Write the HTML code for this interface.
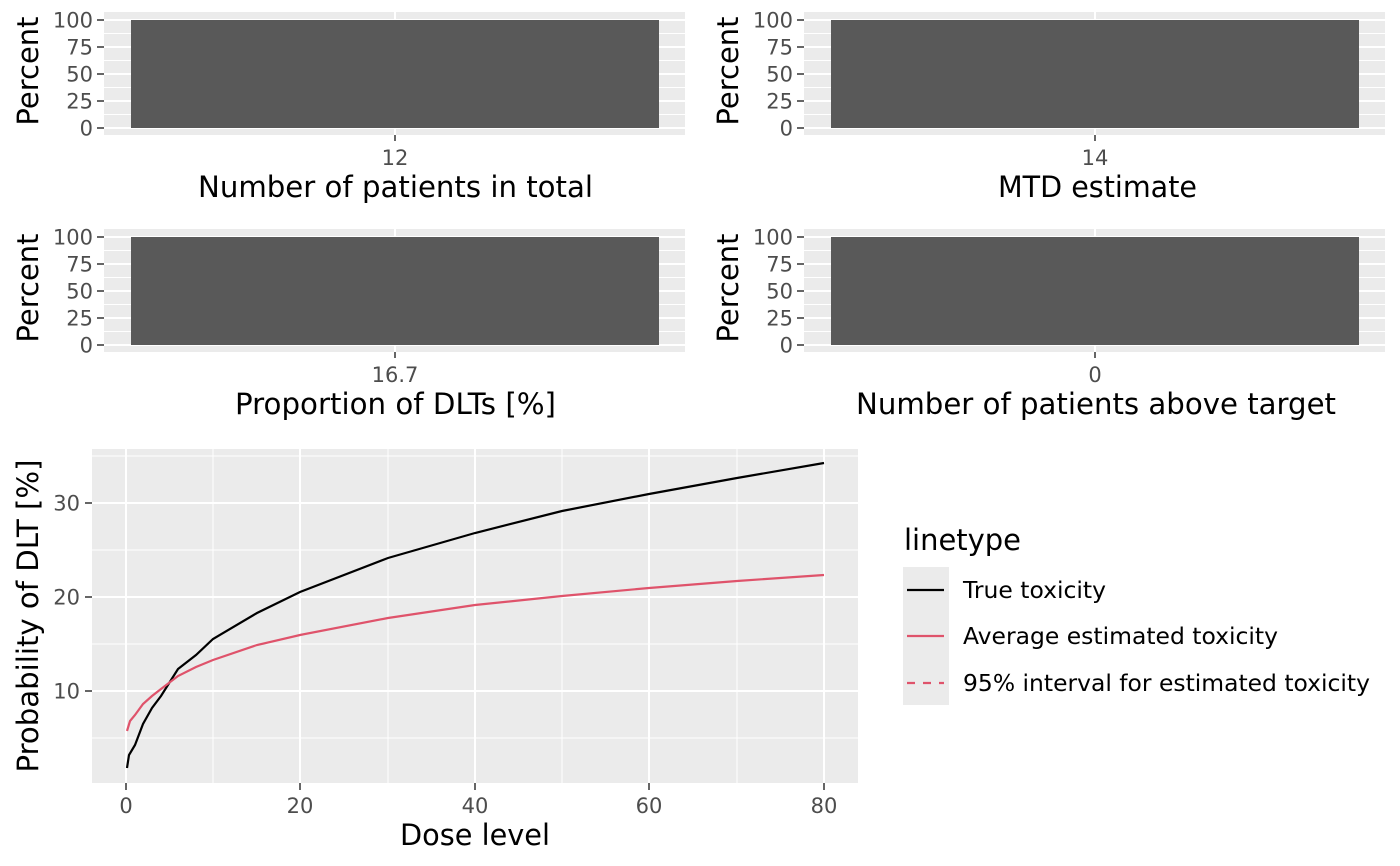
<!DOCTYPE html>
<html><head><style>body{margin:0;background:#fff}svg{display:block}text{font-family:"DejaVu Sans","Liberation Sans",sans-serif}</style></head><body>
<svg width="1400" height="866" xmlns="http://www.w3.org/2000/svg">
<defs>
<g id="panel">
<rect x="104" y="12" width="581" height="123" fill="#EBEBEB"/>
<g stroke="#fff" stroke-width="1"><line x1="104" x2="685" y1="33.5" y2="33.5"/><line x1="104" x2="685" y1="60.5" y2="60.5"/><line x1="104" x2="685" y1="87.5" y2="87.5"/><line x1="104" x2="685" y1="114.5" y2="114.5"/></g>
<g stroke="#fff" stroke-width="2"><line x1="104" x2="685" y1="20" y2="20"/><line x1="104" x2="685" y1="47" y2="47"/><line x1="104" x2="685" y1="74" y2="74"/><line x1="104" x2="685" y1="101" y2="101"/><line x1="104" x2="685" y1="128" y2="128"/><line x1="395" x2="395" y1="12" y2="135"/></g>
<rect x="131" y="20" width="528" height="108" fill="#595959"/>
<g stroke="#333" stroke-width="1.5"><line x1="97" x2="104" y1="20" y2="20"/><line x1="97" x2="104" y1="47" y2="47"/><line x1="97" x2="104" y1="74" y2="74"/><line x1="97" x2="104" y1="101" y2="101"/><line x1="97" x2="104" y1="128" y2="128"/><line x1="395" x2="395" y1="135" y2="141"/></g>
</g>
</defs>
<rect width="1400" height="866" fill="#fff"/>
<g>
<use href="#panel"/>
<g font-size="21" fill="#4D4D4D" text-anchor="end"><text x="93" y="27.5">100</text><text x="93" y="54.5">75</text><text x="93" y="81.5">50</text><text x="93" y="108.5">25</text><text x="93" y="135.5">0</text></g>
<text x="395" y="165" font-size="21" fill="#4D4D4D" text-anchor="middle">12</text>
<text x="198" y="197" font-size="29" textLength="395" lengthAdjust="spacingAndGlyphs">Number of patients in total</text>
<text transform="translate(38,71) rotate(-90)" font-size="29" text-anchor="middle">Percent</text>
</g>
<g transform="translate(700,0)">
<use href="#panel"/>
<g font-size="21" fill="#4D4D4D" text-anchor="end"><text x="93" y="27.5">100</text><text x="93" y="54.5">75</text><text x="93" y="81.5">50</text><text x="93" y="108.5">25</text><text x="93" y="135.5">0</text></g>
<text x="395" y="165" font-size="21" fill="#4D4D4D" text-anchor="middle">14</text>
<text x="298" y="197" font-size="29" textLength="199" lengthAdjust="spacingAndGlyphs">MTD estimate</text>
<text transform="translate(38,71) rotate(-90)" font-size="29" text-anchor="middle">Percent</text>
</g>
<g transform="translate(0,217)">
<use href="#panel"/>
<g font-size="21" fill="#4D4D4D" text-anchor="end"><text x="93" y="27.5">100</text><text x="93" y="54.5">75</text><text x="93" y="81.5">50</text><text x="93" y="108.5">25</text><text x="93" y="135.5">0</text></g>
<text x="395" y="165" font-size="21" fill="#4D4D4D" text-anchor="middle">16.7</text>
<text x="235" y="197" font-size="29" textLength="321" lengthAdjust="spacingAndGlyphs">Proportion of DLTs [%]</text>
<text transform="translate(38,71) rotate(-90)" font-size="29" text-anchor="middle">Percent</text>
</g>
<g transform="translate(700,217)">
<use href="#panel"/>
<g font-size="21" fill="#4D4D4D" text-anchor="end"><text x="93" y="27.5">100</text><text x="93" y="54.5">75</text><text x="93" y="81.5">50</text><text x="93" y="108.5">25</text><text x="93" y="135.5">0</text></g>
<text x="395" y="165" font-size="21" fill="#4D4D4D" text-anchor="middle">0</text>
<text x="156" y="197" font-size="29" textLength="480" lengthAdjust="spacingAndGlyphs">Number of patients above target</text>
<text transform="translate(38,71) rotate(-90)" font-size="29" text-anchor="middle">Percent</text>
</g>
<rect x="92" y="449" width="766" height="334" fill="#EBEBEB"/>
<g stroke="#fff" stroke-width="1"><line x1="92" x2="858" y1="738" y2="738"/><line x1="92" x2="858" y1="644" y2="644"/><line x1="92" x2="858" y1="550" y2="550"/><line x1="92" x2="858" y1="456" y2="456"/>
<line x1="213" x2="213" y1="449" y2="783"/><line x1="388" x2="388" y1="449" y2="783"/><line x1="562" x2="562" y1="449" y2="783"/><line x1="737" x2="737" y1="449" y2="783"/></g>
<g stroke="#fff" stroke-width="2"><line x1="92" x2="858" y1="691" y2="691"/><line x1="92" x2="858" y1="597" y2="597"/><line x1="92" x2="858" y1="503" y2="503"/>
<line x1="126" x2="126" y1="449" y2="783"/><line x1="300" x2="300" y1="449" y2="783"/><line x1="475" x2="475" y1="449" y2="783"/><line x1="649" x2="649" y1="449" y2="783"/><line x1="824" x2="824" y1="449" y2="783"/></g>
<polyline fill="none" stroke="#000" stroke-width="2.2" points="127,768 129,755 135,745 143,724 152,708 161,696 178,669 196,655 213,639 257,613 300,592 388,558 475,533 562,511 649,494 737,478 824,463"/>
<polyline fill="none" stroke="#DF536B" stroke-width="2.2" points="127,731 130,721 135,715 143,704 152,696 161,689 178,676 196,667 213,660 257,645 300,635 388,618 475,605 562,596 649,588 737,581 824,575"/>
<g stroke="#333" stroke-width="1.5"><line x1="85" x2="92" y1="691" y2="691"/><line x1="85" x2="92" y1="597" y2="597"/><line x1="85" x2="92" y1="503" y2="503"/>
<line x1="126" x2="126" y1="783" y2="790"/><line x1="300" x2="300" y1="783" y2="790"/><line x1="475" x2="475" y1="783" y2="790"/><line x1="649" x2="649" y1="783" y2="790"/><line x1="824" x2="824" y1="783" y2="790"/></g>
<g font-size="21" fill="#4D4D4D" text-anchor="end"><text x="80" y="698.5">10</text><text x="80" y="604.5">20</text><text x="80" y="510.5">30</text></g>
<g font-size="21" fill="#4D4D4D" text-anchor="middle"><text x="126" y="813">0</text><text x="300" y="813">20</text><text x="475" y="813">40</text><text x="649" y="813">60</text><text x="824" y="813">80</text></g>
<text x="400" y="845" font-size="29" textLength="150" lengthAdjust="spacingAndGlyphs">Dose level</text>
<text transform="translate(38,616) rotate(-90)" font-size="29" text-anchor="middle" textLength="313" lengthAdjust="spacingAndGlyphs">Probability of DLT [%]</text>
<text x="904" y="550" font-size="29" textLength="117" lengthAdjust="spacingAndGlyphs">linetype</text>
<rect x="903" y="567" width="46" height="138" fill="#EBEBEB"/>
<line x1="907" x2="944" y1="590" y2="590" stroke="#000" stroke-width="2.2"/>
<line x1="907" x2="944" y1="636" y2="636" stroke="#DF536B" stroke-width="2.2"/>
<line x1="907" x2="944" y1="683" y2="683" stroke="#DF536B" stroke-width="2.2" stroke-dasharray="8,8"/>
<g font-size="23"><text x="963" y="598" textLength="143" lengthAdjust="spacingAndGlyphs">True toxicity</text><text x="963" y="644" textLength="315" lengthAdjust="spacingAndGlyphs">Average estimated toxicity</text><text x="963" y="691" textLength="407" lengthAdjust="spacingAndGlyphs">95% interval for estimated toxicity</text></g>
</svg>
</body></html>
